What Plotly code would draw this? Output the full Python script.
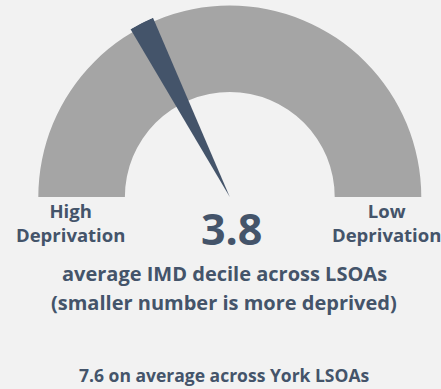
import plotly.graph_objects as go

# Gauge data: average IMD decile (1 = most deprived, 10 = least deprived)
decile_value = 3.8
york_average = 7.6
scale_min = 0.5
scale_max = 10.5
end_labels = ["High<br>Deprivation", "Low<br>Deprivation"]
caption_lines = ["average IMD decile across LSOAs", "(smaller number is more deprived)"]

W, H = 441, 389
BG = "#f2f2f2"
ARC = "#a5a5a5"
INK = "#44546a"
FONT = "Open Sans"

# radial units: 100 = needle length
R_OUT, R_IN, R_NEEDLE = 98.2, 53.8, 100.0
NEEDLE_W = 7.4  # degrees


def to_theta(v):
    """Map a decile value onto the half-circle (0 deg = left, 180 deg = right)."""
    return (v - scale_min) / (scale_max - scale_min) * 180.0


fig = go.Figure()

# grey half-ring spanning the whole scale
fig.add_trace(go.Barpolar(
    r=[R_OUT - R_IN], base=[R_IN],
    theta=[(to_theta(scale_min) + to_theta(scale_max)) / 2],
    width=[to_theta(scale_max) - to_theta(scale_min)],
    marker=dict(color=ARC, line=dict(width=0)),
    hoverinfo="skip", showlegend=False,
))

# needle wedge starting at the value
t = to_theta(decile_value)
fig.add_trace(go.Barpolar(
    r=[R_NEEDLE], base=[0], theta=[t + NEEDLE_W / 2], width=[NEEDLE_W],
    marker=dict(color=INK, line=dict(width=0)),
    hoverinfo="skip", showlegend=False,
))

cx, cy, R = 229.8, 197.0, 195.0
fig.update_layout(
    width=W, height=H,
    margin=dict(l=0, r=0, t=0, b=0),
    paper_bgcolor=BG, plot_bgcolor=BG,
    polar=dict(
        domain=dict(x=[(cx - R) / W, (cx + R) / W], y=[1 - cy / H, 1 - (cy - R) / H]),
        sector=[0, 180],
        bgcolor="rgba(0,0,0,0)",
        bargap=0,
        angularaxis=dict(rotation=180, direction="clockwise", visible=False,
                         showgrid=False, showline=False, ticks=""),
        radialaxis=dict(range=[0, R_NEEDLE], visible=False, showgrid=False,
                        showline=False, ticks=""),
    ),
)


def px_x(x):
    return x / W


def px_y(y):
    return 1 - y / H


def label(text, x, y, size):
    fig.add_annotation(
        text=f"<b>{text}</b>", x=px_x(x), y=px_y(y), xref="paper", yref="paper",
        xanchor="center", yanchor="middle", showarrow=False,
        font=dict(family=FONT, size=size, color=INK), align="center",
    )


label(end_labels[0], 70, 222, 18.5)
label(end_labels[1], 386, 222, 18.5)
label(f"{decile_value}", 231, 228, 43)
label(caption_lines[0], 224, 273, 20)
label(caption_lines[1], 224, 302, 20)
label(f"{york_average} on average across York LSOAs", 224, 375, 17.5)

fig.write_html("out.html")
